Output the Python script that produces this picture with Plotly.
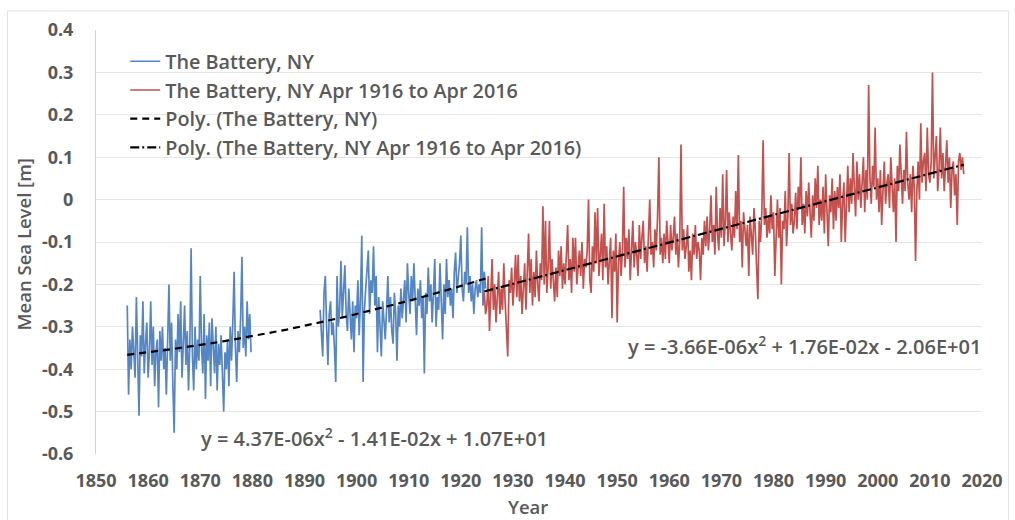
import numpy as np
import plotly.graph_objects as go

# Monthly-mean sea level at The Battery, NY, sampled quarterly (metres)
STEP = 0.25

BLUE_EARLY_START = 1856.0
blue_early = [
    -0.25, -0.46, -0.33, -0.40,   # 1856
    -0.30, -0.38, -0.42, -0.23,   # 1857
    -0.35, -0.51, -0.32, -0.37,   # 1858
    -0.24, -0.41, -0.34, -0.29,   # 1859
    -0.42, -0.36, -0.24, -0.39,   # 1860
    -0.30, -0.44, -0.36, -0.33,   # 1861
    -0.49, -0.31, -0.38, -0.30,   # 1862
    -0.40, -0.35, -0.46, -0.32,   # 1863
    -0.20, -0.38, -0.29, -0.44,   # 1864
    -0.55, -0.33, -0.40, -0.27,   # 1865
    -0.36, -0.24, -0.42, -0.34,   # 1866
    -0.25, -0.39, -0.31, -0.45,   # 1867
    -0.34, -0.115, -0.37, -0.45,  # 1868
    -0.30, -0.40, -0.33, -0.38,   # 1869
    -0.18, -0.35, -0.41, -0.27,   # 1870
    -0.47, -0.32, -0.38, -0.29,   # 1871
    -0.44, -0.28, -0.36, -0.41,   # 1872
    -0.30, -0.45, -0.34, -0.39,   # 1873
    -0.32, -0.42, -0.50, -0.36,   # 1874
    -0.40, -0.33, -0.44, -0.30,   # 1875
    -0.38, -0.29, -0.17, -0.35,   # 1876
    -0.43, -0.31, -0.36, -0.28,   # 1877
    -0.135, -0.35, -0.30, -0.37,  # 1878
    -0.24, -0.33, -0.27, -0.36,   # 1879
]

BLUE_LATE_START = 1893.0
blue_late = [
    -0.26, -0.33, -0.37, -0.22,   # 1893
    -0.18, -0.30, -0.39, -0.27,   # 1894
    -0.24, -0.32, -0.29, -0.35,   # 1895
    -0.43, -0.18, -0.30, -0.26,   # 1896
    -0.145, -0.28, -0.22, -0.155, # 1897
    -0.27, -0.31, -0.21, -0.29,   # 1898
    -0.33, -0.24, -0.36, -0.25,   # 1899
    -0.28, -0.19, -0.32, -0.23,   # 1900
    -0.085, -0.43, -0.26, -0.21,  # 1901
    -0.17, -0.12, -0.27, -0.19,   # 1902
    -0.22, -0.11, -0.25, -0.18,   # 1903
    -0.36, -0.23, -0.30, -0.37,   # 1904
    -0.24, -0.28, -0.33, -0.26,   # 1905
    -0.18, -0.29, -0.23, -0.31,   # 1906
    -0.34, -0.22, -0.27, -0.38,   # 1907
    -0.25, -0.30, -0.21, -0.28,   # 1908
    -0.24, -0.19, -0.29, -0.15,   # 1909
    -0.22, -0.27, -0.18, -0.24,   # 1910
    -0.15, -0.26, -0.32, -0.21,   # 1911
    -0.25, -0.19, -0.28, -0.23,   # 1912
    -0.41, -0.22, -0.27, -0.16,   # 1913
    -0.24, -0.20, -0.29, -0.22,   # 1914
    -0.14, -0.30, -0.23, -0.26,   # 1915
    -0.15, -0.24, -0.33, -0.20,   # 1916
    -0.27, -0.14, -0.23, -0.19,   # 1917
    -0.25, -0.21, -0.28, -0.17,   # 1918
    -0.125, -0.22, -0.19, -0.15,  # 1919
    -0.085, -0.21, -0.24, -0.17,  # 1920
    -0.20, -0.065, -0.22, -0.18,  # 1921
    -0.24, -0.20, -0.27, -0.21,   # 1922
    -0.19, -0.23, -0.20, -0.22,   # 1923
    -0.065, -0.25, -0.17, -0.21,  # 1924
]

RED_START = 1924.5
red_vals = [
    -0.22, -0.27,                 # 1924 (second half)
    -0.25, -0.18, -0.31, -0.22,   # 1925
    -0.14, -0.26, -0.20, -0.29,   # 1926
    -0.23, -0.17, -0.27, -0.21,   # 1927
    -0.26, -0.15, -0.24, -0.30,   # 1928
    -0.37, -0.19, -0.22, -0.16,   # 1929
    -0.25, -0.20, -0.13, -0.23,   # 1930
    -0.13, -0.24, -0.18, -0.27,   # 1931
    -0.21, -0.15, -0.26, -0.19,   # 1932
    -0.08, -0.22, -0.14, -0.25,   # 1933
    -0.17, -0.23, -0.12, -0.20,   # 1934
    -0.24, -0.15, -0.19, -0.016,  # 1935
    -0.20, -0.05, -0.22, -0.16,   # 1936
    -0.05, -0.21, -0.14, -0.19,   # 1937
    -0.24, -0.16, -0.23, -0.12,   # 1938
    -0.18, -0.11, -0.21, -0.15,   # 1939
    -0.20, -0.13, -0.06, -0.19,   # 1940
    -0.14, -0.22, -0.09, -0.17,   # 1941
    -0.09, -0.20, -0.15, -0.12,   # 1942
    -0.18, -0.10, -0.21, -0.14,   # 1943
    -0.16, -0.12, 0.00, -0.19,    # 1944
    -0.22, -0.11, -0.17, -0.03,   # 1945
    -0.15, -0.02, -0.18, -0.12,   # 1946
    -0.08, -0.19, -0.01, -0.16,   # 1947
    -0.11, -0.20, -0.13, -0.09,   # 1948
    -0.28, -0.12, -0.17, -0.08,   # 1949
    -0.29, -0.15, -0.10, -0.18,   # 1950
    -0.12, 0.03, -0.16, -0.09,    # 1951
    -0.14, -0.07, -0.19, -0.11,   # 1952
    -0.05, -0.16, -0.10, -0.13,   # 1953
    -0.18, -0.06, -0.14, -0.09,   # 1954
    -0.05, -0.15, -0.11, -0.17,   # 1955
    -0.08, 0.00, -0.13, -0.10,    # 1956
    -0.16, -0.07, -0.12, -0.04,   # 1957
    0.10, -0.13, -0.09, -0.15,    # 1958
    -0.08, -0.14, -0.05, -0.11,   # 1959
    -0.15, -0.06, -0.12, -0.09,   # 1960
    -0.04, -0.13, -0.08, -0.16,   # 1961
    -0.10, 0.13, -0.12, -0.07,    # 1962
    -0.14, -0.11, -0.06, -0.17,   # 1963
    -0.12, -0.19, -0.08, -0.13,   # 1964
    -0.06, -0.14, -0.10, -0.12,   # 1965
    -0.19, -0.09, -0.13, -0.05,   # 1966
    -0.11, -0.04, -0.12, -0.07,   # 1967
    0.01, -0.10, -0.06, -0.13,    # 1968
    0.03, -0.08, -0.12, -0.02,    # 1969
    -0.09, 0.06, -0.11, -0.05,    # 1970
    0.07, -0.10, -0.03, -0.08,    # 1971
    -0.12, -0.04, -0.09, 0.02,    # 1972
    -0.07, 0.105, -0.10, -0.05,   # 1973
    -0.16, -0.03, -0.08, -0.11,   # 1974
    -0.06, -0.18, -0.04, -0.09,   # 1975
    -0.13, -0.02, -0.07, -0.16,   # 1976
    -0.235, -0.05, -0.10, -0.03,  # 1977
    0.14, -0.06, -0.02, -0.09,    # 1978
    -0.04, -0.08, 0.01, -0.07,    # 1979
    -0.03, -0.18, -0.06, 0.00,    # 1980
    -0.09, -0.02, -0.20, -0.05,   # 1981
    -0.07, 0.02, -0.11, -0.04,    # 1982
    0.11, -0.06, -0.01, -0.08,    # 1983
    -0.05, 0.016, -0.07, 0.03,    # 1984
    -0.02, 0.10, -0.06, -0.01,    # 1985
    -0.08, 0.02, -0.04, 0.04,     # 1986
    -0.03, -0.09, 0.01, -0.05,    # 1987
    0.05, -0.02, 0.08, -0.06,     # 1988
    0.00, -0.05, 0.03, -0.08,     # 1989
    0.06, -0.04, -0.11, 0.01,     # 1990
    -0.03, 0.05, -0.07, 0.02,     # 1991
    -0.05, 0.03, -0.02, 0.06,     # 1992
    -0.10, -0.01, 0.04, -0.10,    # 1993
    0.02, 0.08, -0.03, 0.05,      # 1994
    -0.01, 0.11, 0.03, -0.04,     # 1995
    0.09, 0.00, 0.06, -0.02,      # 1996
    0.04, 0.10, -0.03, 0.07,      # 1997
    0.00, 0.27, 0.05, -0.01,      # 1998
    0.08, 0.03, 0.17, 0.00,       # 1999
    0.05, -0.03, 0.07, -0.06,     # 2000
    0.02, 0.09, -0.01, 0.04,      # 2001
    0.06, -0.02, 0.10, 0.01,      # 2002
    -0.03, 0.05, -0.10, 0.08,     # 2003
    0.02, 0.13, 0.04, -0.01,      # 2004
    0.07, 0.02, 0.16, 0.04,       # 2005
    0.00, 0.06, -0.03, 0.08,      # 2006
    0.03, -0.145, 0.02, 0.09,     # 2007
    0.00, 0.18, 0.04, 0.09,       # 2008
    0.11, 0.02, 0.17, 0.06,       # 2009
    0.04, 0.09, 0.30, 0.05,       # 2010
    0.10, 0.15, 0.02, 0.07,       # 2011
    0.17, 0.05, 0.11, 0.02,       # 2012
    0.08, 0.14, 0.04, 0.10,       # 2013
    -0.02, 0.07, 0.09, 0.01,      # 2014
    0.06, -0.06, 0.09, 0.11,      # 2015
    0.07, 0.10, 0.06,             # 2016
]

x_tick_vals = list(range(1850, 2021, 10))
y_tick_vals = [0.4, 0.3, 0.2, 0.1, 0.0, -0.1, -0.2, -0.3, -0.4, -0.5, -0.6]
y_tick_text = ["0.4", "0.3", "0.2", "0.1", "0", "-0.1", "-0.2", "-0.3", "-0.4", "-0.5", "-0.6"]

series_names = [
    "The Battery, NY",
    "The Battery, NY Apr 1916 to Apr 2016",
    "Poly. (The Battery, NY)",
    "Poly. (The Battery, NY Apr 1916 to Apr 2016)",
]
eq_blue = "y = 4.37E-06x<sup>2</sup> - 1.41E-02x + 1.07E+01"
eq_red = "y = -3.66E-06x<sup>2</sup> + 1.76E-02x - 2.06E+01"

BLUE = "#5585c2"
RED = "#c3524f"
TEXT = "#595959"
FONT = "Open Sans"

# time axes
t_early = BLUE_EARLY_START + STEP * np.arange(len(blue_early))
t_late = BLUE_LATE_START + STEP * np.arange(len(blue_late))
t_red = RED_START + STEP * np.arange(len(red_vals))

# blue record with a break for the missing years
t_blue = np.concatenate([t_early, [np.nan], t_late])
v_blue = np.concatenate([blue_early, [np.nan], blue_late])

# second-order polynomial trend lines
tb = np.concatenate([t_early, t_late])
vb = np.concatenate([blue_early, blue_late])
pb = np.polyfit(tb, vb, 2)
tb_fit = np.linspace(tb.min(), tb.max(), 200)
pr = np.polyfit(t_red, red_vals, 2)
tr_fit = np.linspace(t_red.min(), t_red.max(), 200)

fig = go.Figure()
fig.add_trace(go.Scatter(x=t_blue, y=v_blue, mode="lines", name=series_names[0],
                         line=dict(color=BLUE, width=1.7), connectgaps=False,
                         legendgroup="a"))
fig.add_trace(go.Scatter(x=t_red, y=red_vals, mode="lines", name=series_names[1],
                         line=dict(color=RED, width=1.7), legendgroup="b"))
fig.add_trace(go.Scatter(x=tb_fit, y=np.polyval(pb, tb_fit), mode="lines",
                         name=series_names[2],
                         line=dict(color="black", width=2.2, dash="7px,5px"),
                         legendgroup="c"))
fig.add_trace(go.Scatter(x=tr_fit, y=np.polyval(pr, tr_fit), mode="lines",
                         name=series_names[3],
                         line=dict(color="black", width=2.2, dash="9px,3px,2px,3px"),
                         legendgroup="d"))

eq_font = dict(family=FONT, size=20, color=TEXT, weight=600)
fig.add_annotation(x=1903.5, y=-0.56, xref="x", yref="y", text=eq_blue,
                   showarrow=False, xanchor="center", yanchor="middle", font=eq_font)
fig.add_annotation(x=1986.0, y=-0.343, xref="x", yref="y", text=eq_red,
                   showarrow=False, xanchor="center", yanchor="middle", font=eq_font)

# axis titles
fig.add_annotation(x=-0.082, y=0.495, xref="paper", yref="paper", text="Mean Sea Level [m]",
                   textangle=-90, showarrow=False, xanchor="center", yanchor="middle",
                   font=dict(family=FONT, size=18.5, color=TEXT, weight=600))
fig.add_annotation(x=0.488, y=-0.124, xref="paper", yref="paper", text="Year",
                   showarrow=False, xanchor="center", yanchor="middle",
                   font=dict(family=FONT, size=18.5, color=TEXT, weight=600))

# outer chart border
fig.add_shape(type="rect", xref="paper", yref="paper", x0=-0.0998, x1=1.03,
              y0=-0.2, y1=1.045, line=dict(color="#e3e3e3", width=1))

fig.update_layout(
    width=1015, height=520,
    margin=dict(l=96, r=17, t=30, b=66),
    paper_bgcolor="white", plot_bgcolor="white",
    showlegend=True,
    legend=dict(x=0.033, y=0.972, xanchor="left", yanchor="top",
                bgcolor="rgba(0,0,0,0)", tracegroupgap=0,
                font=dict(family=FONT, size=19.8, color=TEXT, weight=600)),
    xaxis=dict(range=[1850, 2020], tickvals=x_tick_vals, showgrid=False,
               zeroline=False, showline=False, ticks="outside", ticklen=10,
               tickcolor="rgba(0,0,0,0)", ticklabeloverflow="allow",
               tickfont=dict(family=FONT, size=18, color=TEXT, weight=700)),
    yaxis=dict(range=[-0.6, 0.4], tickvals=y_tick_vals, ticktext=y_tick_text,
               showgrid=True, gridcolor="#e6e6e6", gridwidth=1, zeroline=False,
               showline=True, linecolor="#d0d0d0", linewidth=1,
               ticks="outside", ticklen=18, tickcolor="rgba(0,0,0,0)",
               tickfont=dict(family=FONT, size=18, color=TEXT, weight=700)),
)

fig.write_html("out.html")
